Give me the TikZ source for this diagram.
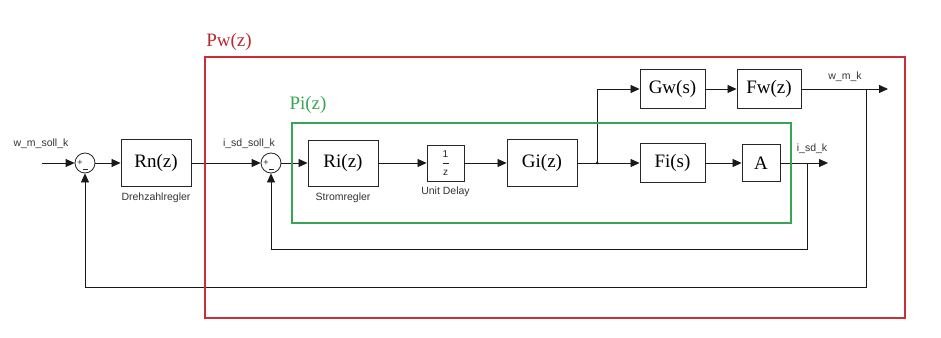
\documentclass[tikz,border=0pt]{standalone}
\usepackage{fontspec}
\setmainfont{Liberation Serif}
\setsansfont{Liberation Sans}
\usepackage{xcolor}
\usetikzlibrary{arrows.meta,positioning}
\definecolor{rot}{RGB}{204,45,55}
\definecolor{gruen}{RGB}{55,165,85}
\tikzset{
  block/.style={draw=black!85,line width=0.9pt,minimum width=70pt,minimum height=47pt,inner sep=0pt,font=\fontsize{19}{20}\selectfont},
  summe/.style={circle,draw=black!85,line width=0.8pt,minimum size=20pt,inner sep=0pt},
  zeichen/.style={inner sep=0pt,font=\sffamily\fontsize{9}{10}\selectfont,text=black!85},
  sig/.style={-{Triangle[length=9pt,width=8pt]},line width=0.8pt,black!90},
  lbl/.style={font=\sffamily\fontsize{10.5}{12}\selectfont,text=black!80},
  rahmen/.style={line width=2.6pt}
}
\begin{document}
\begin{tikzpicture}[x=1pt,y=-1pt]
\useasboundingbox (0,0) rectangle (941,337);
% drehzahlkreis
\coordinate (win) at (42,163);
\node[summe] (s1) at (85,163) {};
\node[zeichen] (s1p) at ([xshift=-5pt]s1.center) {+};
\draw[black!85,line width=0.7pt] ([xshift=-2.5pt,yshift=-6pt]s1.center) -- ([xshift=2.5pt,yshift=-6pt]s1.center);
\node[block] (rn) at (156,163) {Rn(z)};
\node[lbl,below=2pt of rn] (lrn) {Drehzahlregler};
\node[lbl] (lwin) at (41,144) {w\_m\_soll\_k};
\node[summe] (s2) at (271,163) {};
\node[zeichen] (s2p) at ([xshift=-5pt]s2.center) {+};
\draw[black!85,line width=0.7pt] ([xshift=-2.5pt,yshift=-6pt]s2.center) -- ([xshift=2.5pt,yshift=-6pt]s2.center);
\node[lbl] (lisoll) at (249,144) {i\_sd\_soll\_k};
% stromkreis
\node[block,minimum height=46pt] (ri) at (343,163) {Ri(z)};
\node[lbl,below=3pt of ri] (lri) {Stromregler};
\node[block,minimum width=37pt,minimum height=36pt] (ud) at (445.5,163) {};
\node[zeichen,font=\sffamily\fontsize{10}{11}\selectfont] (eins) at (445.5,154) {1};
\node[zeichen,font=\sffamily\fontsize{10}{11}\selectfont] (zet) at (445.5,173) {z};
\draw[black!85,line width=0.6pt] ([xshift=-3pt]ud.center) -- ([xshift=3pt]ud.center);
\node[lbl,below=2pt of ud] (lud) {Unit Delay};
\node[block] (gi) at (542,163) {Gi(z)};
\coordinate (v1) at (597,163);
\node[block,minimum width=65pt,minimum height=39pt] (gw) at (672.5,89) {Gw(s)};
\node[block,minimum width=64pt,minimum height=39pt] (fw) at (769,89) {Fw(z)};
\node[block,minimum width=65pt,minimum height=39pt] (fi) at (672.5,163) {Fi(s)};
\node[block,minimum width=38pt,minimum height=37pt] (a) at (761,163) {A};
\coordinate (wout) at (888,89);
\coordinate (iout) at (828,163);
\coordinate (v2) at (866,89);
\coordinate (v3) at (807,163);
\node[lbl] (lwout) at (845,77) {w\_m\_k};
\node[lbl] (liout) at (812,149) {i\_sd\_k};
% verbindungen
\draw[sig] (win) -- (s1.west);
\draw[sig] (s1.east) -- (rn.west);
\draw[sig] (rn.east) -- (s2.west);
\draw[sig] (s2.east) -- (ri.west);
\draw[sig] (ri.east) -- (ud.west);
\draw[sig] (ud.east) -- (gi.west);
\draw[line width=0.8pt,black!90] (gi.east) -- (v1);
\fill[black!90] (v1) circle (1.5pt);
\draw[sig] (v1) -- (fi.west);
\draw[sig] (v1) |- (gw.west);
\draw[sig] (gw.east) -- (fw.west);
\draw[sig] (fw.east) -- (wout);
\draw[sig] (fi.east) -- (a.west);
\draw[sig] (a.east) -- (iout);
% rueckfuehrungen
\draw[sig] (v2) -- ++(0,198) -| (s1.south);
\draw[sig] (v3) -- ++(0,86) -| (s2.south);
% rahmen
\draw[rahmen,rot] (205,57) rectangle (905,318);
\node[text=rot!90!black,font=\fontsize{19}{20}\selectfont] (lpw) at (229,42) {Pw(z)};
\draw[rahmen,gruen] (292,123) rectangle (791,223);
\node[text=gruen,font=\fontsize{19}{20}\selectfont] (lpi) at (308,105) {Pi(z)};
\end{tikzpicture}
\end{document}
